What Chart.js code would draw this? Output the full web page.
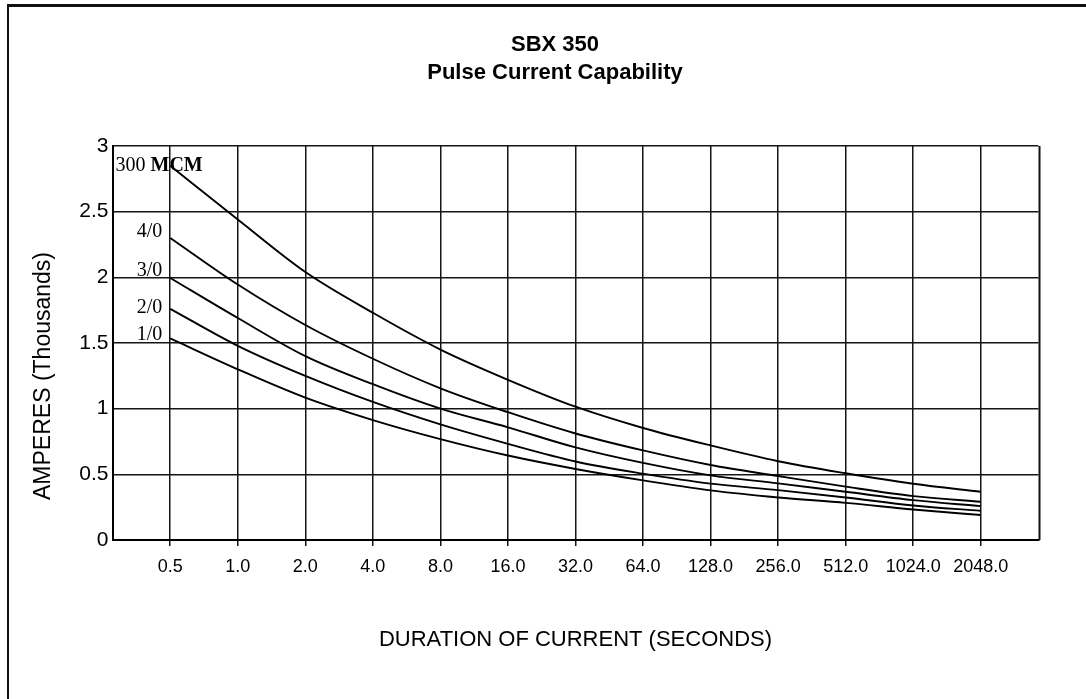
<!DOCTYPE html>
<html>
<head>
<meta charset="utf-8">
<script src="https://cdn.jsdelivr.net/npm/chart.js@4.4.1/dist/chart.umd.min.js"></script>
<style>
  html, body { margin: 0; padding: 0; background: #fff; }
  #frame { position: absolute; left: 7px; top: 4px; right: -5px; bottom: -10px;
           border-top: 3px solid #111; border-left: 2.5px solid #111; }
  #wrap { position: absolute; left: 0; top: 0; width: 1086px; height: 699px; }
</style>
</head>
<body>
<div id="frame"></div>
<div id="wrap"><canvas id="c"></canvas></div>
<script>
// ---- data ----
const durations = [0.5, 1, 2, 4, 8, 16, 32, 64, 128, 256, 512, 1024, 2048];
const seriesNames = ["300 MCM", "4/0", "3/0", "2/0", "1/0"];
const mcm300 = [2.85, 2.44, 2.04, 1.73, 1.45, 1.22, 1.015, 0.853, 0.72, 0.60, 0.508, 0.428, 0.367];
const awg4_0 = [2.30, 1.945, 1.637, 1.38, 1.155, 0.973, 0.811, 0.682, 0.571, 0.487, 0.406, 0.334, 0.291];
const awg3_0 = [1.995, 1.69, 1.40, 1.186, 1.00, 0.858, 0.705, 0.587, 0.492, 0.431, 0.367, 0.304, 0.258];
const awg2_0 = [1.76, 1.478, 1.249, 1.051, 0.88, 0.732, 0.598, 0.505, 0.429, 0.38, 0.324, 0.263, 0.222];
const awg1_0 = [1.535, 1.30, 1.084, 0.913, 0.768, 0.643, 0.541, 0.454, 0.378, 0.324, 0.283, 0.232, 0.19];
const yTicks = [0, 0.5, 1, 1.5, 2, 2.5, 3];
const titleLines = ["SBX 350", "Pulse Current Capability"];
const xTitle = "DURATION OF CURRENT (SECONDS)";
const yTitle = "AMPERES (Thousands)";

const allSeries = [mcm300, awg4_0, awg3_0, awg2_0, awg1_0];
const SANS = "'Liberation Sans', Arial, Helvetica, sans-serif";
const SERIF = "'Liberation Serif', 'Times New Roman', serif";

// extra room on each side of the first/last tick (in octaves)
const octPad = 0.855;
const xMin = durations[0] / Math.pow(2, octPad);
const xMax = durations[durations.length - 1] * Math.pow(2, octPad);

const datasets = allSeries.map((vals, i) => ({
  label: seriesNames[i],
  data: durations.map((d, j) => ({ x: d, y: vals[j] })),
  borderColor: '#000',
  borderWidth: 1.9,
  pointRadius: 0,
  fill: false,
  cubicInterpolationMode: 'monotone'
}));

const framePlugin = {
  id: 'frame',
  afterDraw(chart) {
    const { ctx, chartArea: a } = chart;
    ctx.save();
    ctx.strokeStyle = '#111';
    ctx.lineWidth = 2;
    ctx.beginPath();
    ctx.moveTo(Math.round(a.right) + 0.5, a.top);
    ctx.lineTo(Math.round(a.right) + 0.5, a.bottom);
    ctx.stroke();
    ctx.restore();
  }
};

const yTitlePlugin = {
  id: 'yTitleText',
  afterDraw(chart, args, opts) {
    const { ctx, chartArea: a } = chart;
    ctx.save();
    ctx.translate(a.left + opts.dx, (a.top + a.bottom) / 2 + opts.dy);
    ctx.rotate(-Math.PI / 2);
    ctx.font = opts.font;
    ctx.fillStyle = '#000';
    ctx.textAlign = 'center';
    ctx.textBaseline = 'middle';
    ctx.fillText(opts.text, 0, 0);
    ctx.restore();
  }
};

const curveLabelPlugin = {
  id: 'curveLabels',
  afterDatasetsDraw(chart, args, opts) {
    const { ctx, chartArea: a } = chart;
    ctx.save();
    ctx.fillStyle = '#000';
    ctx.textBaseline = 'middle';
    chart.data.datasets.forEach((ds, i) => {
      const p = chart.getDatasetMeta(i).data[0];
      const y = p.y + opts.dy[i];
      if (i === 0) {
        ctx.textAlign = 'left';
        const x0 = a.left + 3;
        ctx.font = '20px ' + SERIF;
        const first = '300 ';
        ctx.fillText(first, x0, y);
        const w = ctx.measureText(first).width;
        ctx.font = 'bold 20px ' + SERIF;
        ctx.fillText('MCM', x0 + w, y);
      } else {
        ctx.textAlign = 'right';
        ctx.font = '20px ' + SERIF;
        ctx.fillText(ds.label, p.x - 8, y);
      }
    });
    ctx.restore();
  }
};

new Chart(document.getElementById('c'), {
  type: 'line',
  data: { datasets },
  plugins: [framePlugin, yTitlePlugin, curveLabelPlugin],
  options: {
    responsive: true,
    maintainAspectRatio: false,
    animation: false,
    layout: { padding: { left: 71.5, right: 47.5, top: 0, bottom: 0 } },
    plugins: {
      legend: { display: false },
      tooltip: { enabled: false },
      title: {
        display: true,
        text: titleLines,
        color: '#000',
        font: { family: SANS, size: 22, weight: 'bold', lineHeight: 1.27 },
        padding: { top: 31, bottom: 59.1 }
      },
      yTitleText: { text: yTitle, font: '23px ' + SANS, dx: -68.5, dy: 33 },
      curveLabels: { dy: [0, -6, -7, -1, -4] }
    },
    scales: {
      x: {
        type: 'logarithmic',
        min: xMin,
        max: xMax,
        afterBuildTicks(scale) { scale.ticks = durations.map(v => ({ value: v })); },
        afterFit(scale) { scale.height = 159; },
        ticks: {
          autoSkip: false, maxRotation: 0, padding: 10, color: '#000',
          font: { family: SANS, size: 18 },
          callback: (v) => Number(v).toFixed(1)
        },
        grid: { color: '#151515', lineWidth: 1.5, tickLength: 6, drawTicks: true },
        border: { display: true, color: '#000', width: 2 },
        title: {
          display: true, text: xTitle, color: '#000',
          font: { family: SANS, size: 22 },
          padding: { top: 0, bottom: 46 }
        }
      },
      y: {
        type: 'linear',
        min: 0, max: 3,
        afterBuildTicks(scale) { scale.ticks = yTicks.map(v => ({ value: v })); },
        afterFit(scale) { scale.width = 41; },
        ticks: {
          padding: 4, color: '#000',
          font: { family: SANS, size: 21 },
          callback: (v) => String(v)
        },
        grid: { color: '#151515', lineWidth: 1.5, drawTicks: false },
        border: { display: true, color: '#000', width: 2 }
      }
    }
  }
});
</script>
</body>
</html>
